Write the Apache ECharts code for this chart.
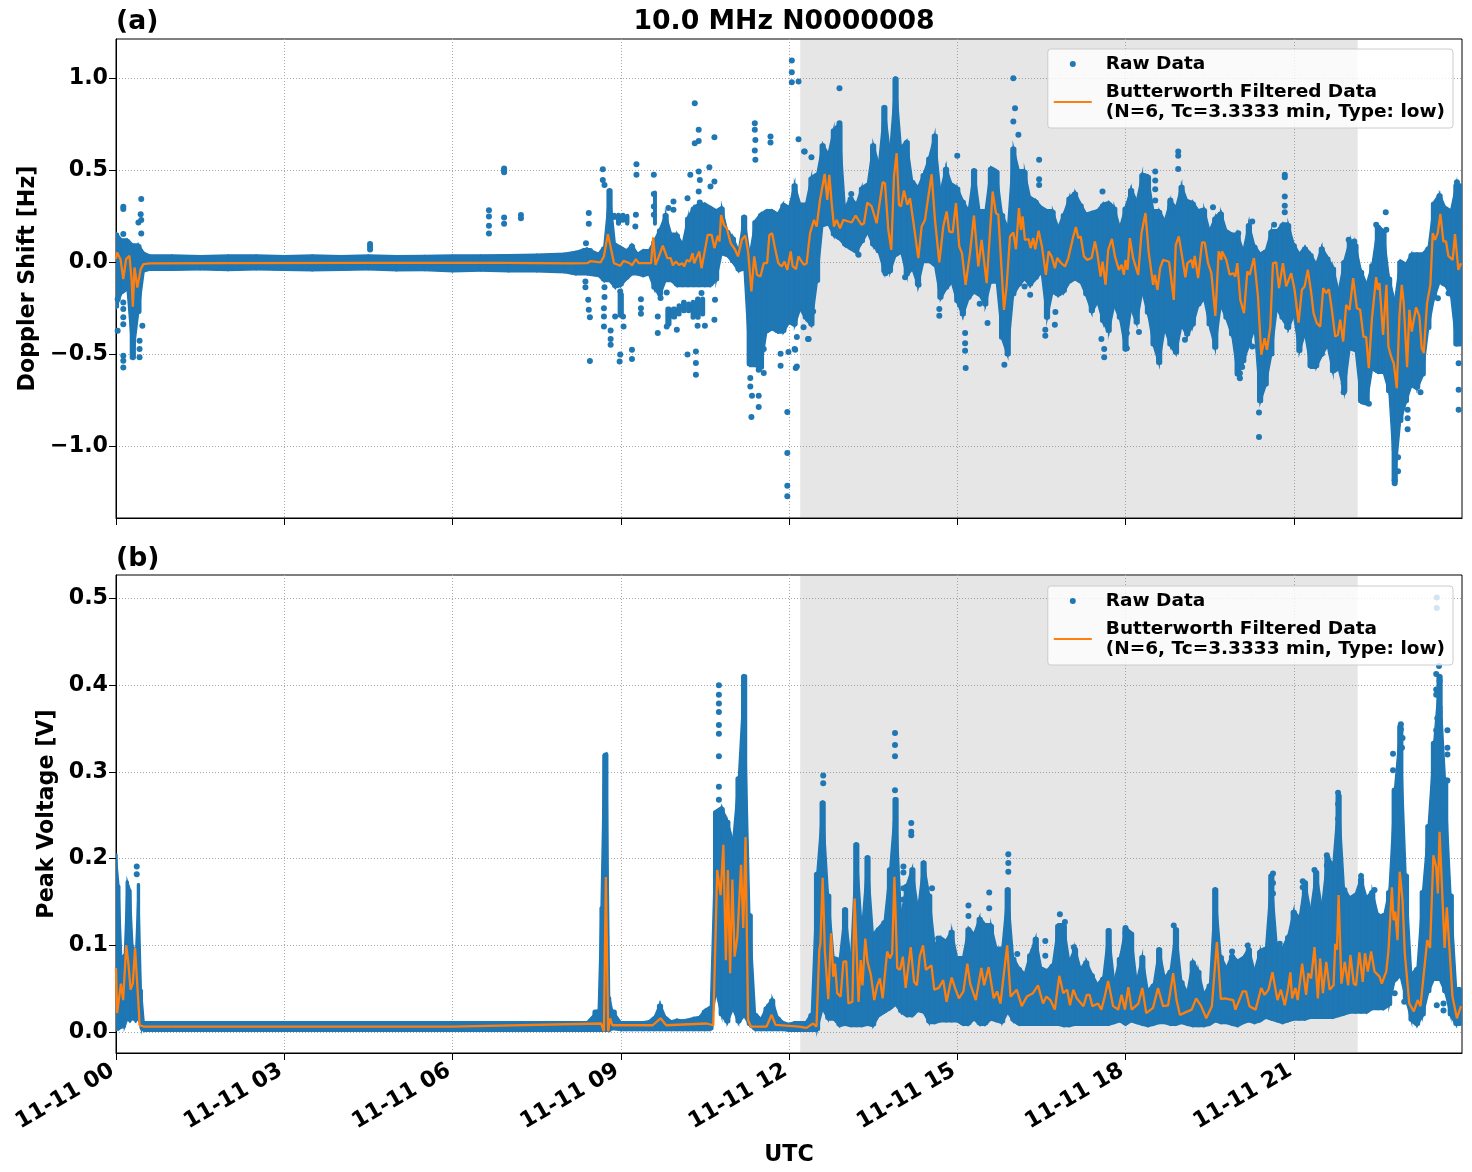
<!DOCTYPE html>
<html>
<head>
<meta charset="utf-8">
<title>10.0 MHz N0000008</title>
<script src="https://cdn.jsdelivr.net/npm/echarts@6/dist/echarts.min.js"></script>
<style>html,body{margin:0;padding:0;background:#fff}#chart{width:1472px;height:1172px}</style>
</head>
<body>
<div id="chart"></div>
<script>
// Axis ticks and labels
const xTicks = [0, 3, 6, 9, 12, 15, 18, 21];
const xTickLabels = ['11-11 00', '11-11 03', '11-11 06', '11-11 09', '11-11 12', '11-11 15', '11-11 18', '11-11 21'];
const dopplerTicks = [-1, -0.5, 0, 0.5, 1];
const voltageTicks = [0, 0.1, 0.2, 0.3, 0.4, 0.5];
const shadedSpan = [12.2, 22.14];

// Half-hour to tenth-of-an-hour sample times (UTC hours) for the raw-data envelopes
const tenthsFrom = (start, end) => {
  const out = [];
  for (let t = Math.round(start * 10); t <= Math.round(end * 10); t++) out.push(t / 10);
  return out;
};
const dopplerHours = [0, .1, .2, .3, .4, .5, .6, 1, 1.5, 2, 2.5, 3, 3.5, 4, 4.5, 5, 5.5, 6, 6.5, 7, 7.5, 8, 8.2, 8.4, 8.6].concat(tenthsFrom(8.7, 23.9));
const voltageHours = [0, .05, .1, .15, .2, .25, .3, .35, .4, .45, .5, 1, 2, 3, 4, 5, 6, 7, 8, 8.4, 8.6, 8.65, 8.7, 8.75, 8.8, 8.85].concat(tenthsFrom(9, 23.9));

// Doppler shift [Hz]: upper and lower edge of the raw-data cloud
const dopplerHigh = [
  .163, .127, .127, .1, .1, .054, .04, .04, .036, .04, .04, .036, .04, .036, .04, .036, .038, .04, .04, .042, .045, .05, .06, .078, .05,
  .087, .403, .105, .087, .069, .096, .051, .069, .069, .123, .186, .268, .159, .159, .105, .25, .304, .322, .322, .304, .286, .304, .177, .141, .069, .259, .051, .231, .268, .286, .286, .268, .322,
  .304, .43, .322, .322, .467, .485, .647, .593, .729, .756, .304, .358, .322, .412, .43, .647, .539, .855, .611, 1.01,
  .629, .665, .448, .412, .485, .575, .70, .394, .52, .43, .412, .34, .286, .512, .286, .286, .52, .503, .268, .195,
  .63, .503, .503, .358, .34, .304, .286, .286, .195, .268, .358, .385, .322, .268, .277, .286, .322, .33, .304, .195,
  .304, .404, .34, .485, .476, .286, .286, .232, .34, .304, .422, .34, .331, .286, .295, .177, .25, .277, .177, .159,
  .159, .069, .214, .096, .051, .069, .177, .177, .214, .214, .105, .051, .087, .051, -.004, .087, .033, -.022, -.148, .014,
  .123, .105, -.04, -.112, -.004, .205, .177, -.076, -.203, .014, -.004, .051, .051, .051, .087, .331, .376, .304, .286, .43
];
const dopplerLow = [
  -.25, -.17, -.15, -.53, -.28, -.05, -.042, -.042, -.04, -.044, -.04, -.042, -.045, -.042, -.04, -.045, -.044, -.05, -.046, -.05, -.05, -.055, -.067, -.067, -.075,
  -.103, -.103, -.139, -.13, -.094, -.067, -.067, -.076, -.067, -.148, -.184, -.103, -.103, -.13, -.13, -.13, -.13, -.13, -.13, -.13, -.103, .042, .033, -.004, -.049, -.04, -.564, -.564, -.582, -.383, -.365, -.383, -.383,
  -.33, -.347, -.257, -.311, -.347, -.112, .195, .204, .141, .123, .087, .069, .05, .105, .159, .087, .05, -.058, -.058, .033,
  .05, -.076, -.04, -.13, 0, 0, -.022, -.203, -.148, -.112, -.22, -.293, -.203, -.166, -.184, -.239, -.112, -.112, -.42, -.51,
  -.184, -.13, -.094, -.13, -.094, -.058, -.311, -.166, -.184, -.166, -.112, -.094, -.112, -.184, -.275, -.22, -.329, -.383, -.239, -.311,
  -.483, -.257, -.338, -.166, -.284, -.456, -.556, -.366, -.456, -.501, -.348, -.402, -.348, -.239, -.203, -.348, -.474, -.239, -.311, -.402,
  -.619, -.547, -.456, -.366, -.764, -.673, -.51, -.257, -.311, -.366, -.293, -.492, -.393, -.574, -.574, -.51, -.456, -.601, -.583, -.71,
  -.474, -.483, -.764, -.773, -.583, -.601, -.601, -.71, -1.198, -.872, -.764, -.673, -.691, -.619, -.366, -.203, -.112, -.13, -.185, -.456
];
// Detached clumps of raw samples: [from hour, to hour, low, high]
const dopplerClumps = [
  [8.85, 8.92, .23, .27], [8.92, 9, .2, .27], [9, 9.08, .215, .27], [9.08, 9.15, .2, .265],
  [8.95, 9.05, -.3, -.16], [9.58, 9.64, .2, .39],
  [9.8, 9.9, -.347, -.239], [9.9, 10, -.31, -.239], [10, 10.08, -.293, -.221], [10.08, 10.17, -.275, -.203],
  [10.17, 10.25, -.275, -.212], [10.25, 10.33, -.311, -.203], [10.33, 10.42, -.311, -.185], [10.42, 10.5, -.293, -.185]
];
// Isolated raw samples: [hour, Hz]
const dopplerPoints = [
  [.13, .302], [.13, .29], [.45, .344], [.44, .262], [.45, .23], [.4, .217], [.45, .157], [.13, .154], [.13, -.217], [.13, -.253], [.13, -.298], [.13, -.335],
  [.13, -.506], [.13, -.533], [.13, -.57], [.03, -.37], [.42, -.425], [.42, -.47], [.42, -.515], [.47, -.344], [.03, -.2],
  [4.53, .1], [4.53, .085], [4.53, .07], [6.92, .51], [6.92, .5], [6.92, .49], [6.65, .284], [6.65, .25], [6.65, .2], [6.65, .157], [6.92, .244], [6.92, .21], [7.22, .257], [7.22, .24],
  [10.32, .864], [10.39, .72], [10.39, .66], [10.32, .647], [10.67, .68], [11.39, .756], [11.39, .72], [11.4, .665], [11.39, .608], [11.4, .557], [11.67, .684], [11.67, .651], [12.17, .669], [12.28, .602],
  [8.68, .506], [8.68, .448], [8.71, .421], [8.43, .268], [8.43, .21], [8.38, .105], [9.28, .533], [9.28, .476], [9.59, .476], [9.59, .371], [9.59, .304], [9.59, .259], [9.94, .331],
  [10.58, .517], [10.39, .494], [10.41, .448], [10.24, .476], [10.67, .439], [10.6, .412], [10.39, .385], [10.41, .325], [9.94, .286], [9.85, .295], [10.19, .349], [9.27, .259], [9.26, .195], [9.2, .087], [10.12, .087], [9.98, .096],
  [8.37, -.103], [8.37, -.134], [8.42, -.203], [8.43, -.257], [8.45, -.297], [8.45, -.535], [8.71, -.134], [8.71, -.188], [8.7, -.248], [8.7, -.293], [8.7, -.347], [8.82, -.369], [8.82, -.416], [8.82, -.447],
  [8.9, -.293], [8.99, -.157], [9.04, -.293], [9.05, -.347], [8.99, -.5], [8.98, -.537], [9.2, -.474], [9.2, -.524], [9.36, -.199], [9.36, -.248], [9.36, -.278], [9.66, -.293], [9.66, -.383], [9.71, -.193], [9.82, -.163],
  [10, -.365], [9.82, -.347], [10.19, -.5], [10.34, -.483], [10.34, -.546], [10.34, -.609], [10.37, -.344], [10.5, -.344], [10.68, -.203], [10.67, -.311], [10.44, -.166],
  [11.31, -.627], [11.31, -.673], [11.34, -.723], [11.33, -.839], [11.46, -.723], [11.46, -.785], [11.55, -.47], [11.55, -.6], [11.46, -.582],
  [11.97, -.812], [11.97, -1.034], [11.97, -1.212], [11.97, -1.269], [12.14, -.564], [11.85, -.495], [11.85, -.56], [11.99, -.486], [12.1, -.47], [12.14, -.405], [12.34, -.416], [12.26, -.351],
  [12.05, 1.096], [12.05, 1.033], [12.05, .978], [12.17, .982], [12.27, .602], [12.4, .571], [12.9, .946], [12.9, .756], [16, 1], [16.03, .837], [16, .765], [16.09, .693], [15, .579], [16.46, .557], [16.46, .452], [16.46, .42], [17.59, .385], [13.11, .371],
  [16.57, -.365], [16.74, -.338], [16.57, -.398], [16.75, -.269], [15.14, -.383], [15.14, -.438], [15.14, -.479], [15.15, -.573], [15.84, -.555], [12.35, -.416], [12.12, -.573], [12.11, -.474], [14.68, -.253], [14.68, -.289], [15.54, -.329], [15.4, -.224],
  [17.62, -.514], [17.62, -.47], [17.57, -.416], [18.02, -.465], [18.02, -.383], [13.72, -.058], [13.24, .042], [14.07, -.08], [14.31, -.121], [16.2, -.13], [16.3, -.175], [12.43, -.266],
  [18.94, .603], [18.94, .579], [18.94, .507], [18.53, .494], [18.53, .445], [18.53, .398], [18.53, .337], [18.8, .337], [18.8, .3], [19.56, .3], [20.84, .476], [20.84, .463], [20.84, .358], [20.84, .308], [20.84, .272], [20.01, .159], [20.26, .223], [20.65, .205], [21.98, .123], [22.08, .114],
  [20.38, -.815], [20.38, -.948], [18.24, -.378], [18.02, -.384], [18.02, -.465], [19.06, -.42], [19.2, -.311], [20.04, -.601], [20.04, -.628], [20.08, -.568], [20.26, -.456], [20.88, -.348], [21.89, -.606], [21.89, -.655], [21.89, -.704],
  [22.23, -.719], [22.23, -.755], [22.34, -.767], [22.24, -.659], [22.64, .273], [22.47, .205], [22.65, .177], [22.8, -1.017], [22.86, -1.057], [22.86, -1.133], [22.8, -1.184], [22.8, -1.198], [23.03, -.8], [23.03, -.845], [23.03, -.905], [23.26, -.704],
  [23.91, .436], [23.91, .398], [23.91, .364], [23.94, -.547], [23.94, -.691], [23.94, -.8], [23.94, -.402], [23.57, -.194], [23.67, -.112], [23.76, -.167]
];
// Butterworth-filtered Doppler shift: [hour, Hz]
const dopplerFiltered = [
  [0, .02], [.02, .054], [.08, .018], [.13, -.09], [.18, .018], [.24, .036], [.28, -.1], [.3, -.24], [.33, -.027], [.38, -.136], [.44, -.036], [.49, -.009], [.6, -.005],
  [2, -.004], [4.5, -.002], [6.9, -.002], [8.1, -.005], [8.4, -.004], [8.46, .007], [8.64, 0], [8.7, .033], [8.77, .154], [8.83, .069], [8.88, -.004], [8.99, -.018], [9.05, .009], [9.16, -.004], [9.2, -.016], [9.27, .018], [9.32, -.004], [9.54, -.004], [9.58, .137], [9.62, -.013],
  [9.68, .033], [9.75, .092], [9.83, .024], [9.89, .024], [9.93, -.016], [9.98, .005], [10.04, -.013], [10.1, -.004], [10.13, -.022], [10.18, .014], [10.23, .005], [10.28, .05], [10.31, -.004], [10.4, .06], [10.44, -.031], [10.48, .033], [10.55, .15], [10.62, .15], [10.67, .078], [10.73, .145], [10.76, .114], [10.79, .257], [10.84, .204], [10.89, .186], [10.96, .105], [11.04, .069], [11.09, .033], [11.16, .123], [11.22, .146], [11.27, .06], [11.33, -.157], [11.38, .033], [11.43, -.067], [11.49, -.076], [11.55, -.004], [11.61, -.004], [11.65, .149], [11.7, .158], [11.75, .078], [11.81, -.004], [11.87, -.022], [11.92, .005], [11.97, -.04], [12.03, .06],
  [12.065, -.02], [12.125, -.036], [12.167, .033], [12.226, .005], [12.268, -.013], [12.315, -.004], [12.375, .159], [12.446, .231], [12.493, .195], [12.553, .34], [12.636, .481], [12.683, .34], [12.719, .476], [12.761, .322], [12.802, .195], [12.85, .231], [12.909, .186], [12.969, .231], [13.117, .217], [13.189, .255], [13.236, .231], [13.295, .204], [13.337, .213], [13.396, .325], [13.474, .304], [13.563, .213], [13.67, .436], [13.711, .43], [13.771, .177], [13.824, .069], [13.872, .467], [13.919, .593], [13.961, .313], [13.997, .304],
  [14.05, .391], [14.11, .313], [14.157, .349], [14.217, .222], [14.306, .024], [14.365, .195], [14.424, .231], [14.543, .479], [14.603, .231], [14.68, 0], [14.751, .195], [14.811, .277], [14.858, .168], [14.918, .163], [14.977, .322], [15.036, .087], [15.084, .051], [15.149, -.121], [15.227, .051], [15.298, .255], [15.375, -.022], [15.435, .123], [15.524, -.112], [15.565, .078], [15.631, .385], [15.69, .268], [15.732, .259], [15.773, .051], [15.833, -.257], [15.88, -.13], [15.94, .141],
  [16, .163], [16.047, .072], [16.1, .295], [16.136, .177], [16.165, .25], [16.207, .123], [16.272, .127], [16.308, .078], [16.355, .132], [16.391, .072], [16.45, .172], [16.51, .087], [16.581, -.067], [16.629, .06], [16.682, .033], [16.742, -.031], [16.783, .024], [16.843, 0], [16.92, -.022], [16.98, .024], [17.069, .141], [17.116, .192], [17.158, .132], [17.2, .141], [17.259, .033], [17.318, .014], [17.396, .024], [17.455, .114], [17.496, .051], [17.556, -.076], [17.591, .005], [17.645, -.121], [17.692, .069], [17.758, .128], [17.811, .033], [17.883, -.04], [17.93, -.013], [17.972, -.067],
  [18, .014], [18.036, -.04], [18.077, .132], [18.136, .024], [18.226, -.067], [18.285, .159], [18.356, .268], [18.415, .051], [18.493, -.121], [18.522, -.067], [18.57, -.148], [18.617, -.031], [18.671, .014], [18.777, .004], [18.861, -.203], [18.896, .096], [18.95, .141], [19.009, .033], [19.068, -.081], [19.104, -.004], [19.175, .014], [19.205, -.031], [19.234, .036], [19.294, -.085], [19.365, .109], [19.412, .109], [19.472, -.004], [19.531, -.058], [19.602, -.29], [19.662, .06], [19.709, .014], [19.721, .06], [19.798, .014], [19.858, -.067], [19.917, -.058], [19.958, -.076], [19.994, -.004],
  [20.047, -.203], [20.113, -.275], [20.172, -.049], [20.214, -.067], [20.291, .024], [20.362, -.185], [20.421, -.501], [20.481, -.411], [20.522, -.474], [20.582, -.348], [20.629, -.004], [20.688, 0], [20.736, -.139], [20.807, -.004], [20.866, -.13], [20.955, -.058], [21.015, -.148], [21.086, -.326], [21.145, -.148], [21.193, -.13], [21.252, -.04], [21.312, -.167], [21.353, -.275], [21.412, -.329], [21.472, -.348], [21.525, -.139], [21.579, -.167], [21.626, -.145], [21.68, -.257], [21.739, -.402], [21.786, -.393], [21.828, -.311], [21.881, -.429], [21.935, -.23], [21.994, -.257],
  [22.059, -.085], [22.125, -.248], [22.184, -.257], [22.243, -.402], [22.291, -.405], [22.338, -.574], [22.392, -.311], [22.421, -.308], [22.469, -.08], [22.499, -.148], [22.528, -.112], [22.593, -.393], [22.653, -.121], [22.688, -.456], [22.736, -.51], [22.783, -.547], [22.837, -.682], [22.884, -.293], [22.926, -.121], [22.961, -.221], [23.021, -.568], [23.062, -.257], [23.104, -.375], [23.181, -.244], [23.24, -.293], [23.282, -.465], [23.318, -.492], [23.377, -.221], [23.436, -.121], [23.478, .159], [23.519, .123], [23.567, .159], [23.614, .264], [23.668, .114], [23.715, .114], [23.757, .036], [23.834, .014], [23.875, .154], [23.935, -.04], [23.982, -.004]
];

// Peak voltage [V]: upper and lower edge of the raw-data cloud
const voltageHigh = [
  .206, .17, .087, .09, .175, .165, .1, .09, .172, .05, .012, .012, .012, .012, .012, .012, .012, .012, .012, .012, .026, .145, .321, .322, .041, .026,
  .012, .012, .012, .012, .012, .013, .018, .033, .018, .013, .015, .014, .015, .017, .018, .026, .03, .256, .26, .245, .222, .295, .413, .137, .022, .016, .03, .039, .018, .012,
  .01, .012, .012, .012, .022, .185, .267, .16, .087, .085, .144, .085, .219, .121, .204, .114, .121, .129, .19, .271,
  .137, .171, .19, .144, .198, .16, .102, .11, .106, .118, .087, .087, .121, .114, .133, .125, .125, .098, .098, .167,
  .087, .075, .068, .091, .11, .075, .072, .079, .125, .125, .083, .098, .074, .083, .068, .056, .064, .12, .06, .087,
  .121, .116, .06, .089, .049, .056, .098, .064, .072, .121, .06, .047, .083, .072, .045, .056, .167, .089, .075, .09,
  .083, .087, .098, .072, .095, .098, .183, .102, .098, .112, .141, .133, .175, .141, .187, .146, .204, .194, .275, .167,
  .156, .16, .179, .156, .164, .137, .133, .164, .282, .355, .183, .068, .075, .164, .24, .336, .413, .294, .16, .052
];
const voltageLow = [
  .002, .003, .005, .005, .014, .012, .015, .012, .015, .003, .001, .001, .001, .001, .001, .001, .001, .001, .001, .001, .001, .001, .001, .001, .001, .003,
  .002, .002, .002, .002, .002, .002, .002, .002, .002, .002, .002, .002, .002, .002, .002, .002, .002, .045, .018, .01, .026, .01, .018, .007, .002, .002, .002, .002, .002, .002,
  .001, .001, .001, .001, .001, .001, .026, .014, .014, .0065, .008, .0065, .0065, .0065, .008, .0065, .018, .022, .026, .031,
  .022, .018, .018, .024, .022, .01, .01, .012, .012, .012, .012, .008, .008, .014, .008, .008, .014, .012, .01, .022,
  .012, .008, .008, .008, .008, .008, .008, .008, .008, .0065, .0065, .008, .008, .008, .008, .008, .008, .008, .01, .012,
  .008, .012, .01, .008, .0065, .008, .01, .01, .008, .008, .01, .008, .0065, .0065, .0065, .008, .012, .01, .01, .008,
  .0065, .01, .012, .01, .012, .016, .014, .012, .01, .012, .014, .014, .014, .016, .016, .016, .016, .016, .018, .02,
  .022, .022, .022, .022, .026, .026, .026, .03, .058, .064, .037, .012, .007, .018, .045, .06, .06, .045, .018, .007
];
// Isolated raw samples: [hour, V]
const voltagePoints = [
  [.37, .191], [.37, .182], [10.75, .4], [10.75, .389], [10.75, .379], [10.75, .369], [10.75, .354], [10.75, .344], [10.75, .318], [10.75, .283], [10.75, .268],
  [21.79, .276], [21.79, .263], [21.79, .246], [20.63, .183], [20.63, .172], [20.63, .16], [21.59, .204], [21.59, .192], [21.16, .174], [21.16, .167], [21.37, .187],
  [22.77, .321], [22.77, .302], [22.91, .355], [22.91, .349], [22.94, .339], [22.93, .328], [23.74, .348], [23.74, .328], [23.74, .32], [23.74, .29],
  [23.59, .422], [23.54, .413], [23.6, .405], [23.54, .395], [23.54, .389], [23.6, .374], [23.6, .369], [23.56, .362], [23.54, .348], [22.8, .045], [22.97, .035], [23.55, .031], [23.67, .025], [23.67, .033],
  [18.86, .123], [19.9, .093], [20.75, .102], [20.18, .1], [22.2, .18], [22.44, .164], [22.6, .134], [21.59, .167], [23.55, .501], [23.55, .489],
  [12.61, .296], [12.61, .287], [13.89, .345], [13.89, .331], [13.89, .318], [13.89, .279], [14.18, .241], [14.18, .231], [14.18, .227], [15.91, .205], [15.91, .195], [15.91, .185],
  [15.57, .161], [15.57, .143], [15.2, .146], [15.2, .134], [16.83, .136], [16.92, .127], [16.57, .105], [16.57, .088], [17.08, .098], [16.07, .09], [14.66, .108], [14.77, .103],
  [14.04, .191], [14.04, .184], [14.04, .166], [14.04, .153], [14.04, .139], [18, .12], [18, .114], [14.55, .166]
];
// Butterworth-filtered peak voltage: [hour, V]
const voltageFiltered = [
  [0, .074], [.02, .022], [.088, .056], [.127, .037], [.183, .1], [.22, .08], [.26, .049], [.3, .056], [.34, .097], [.41, .022], [.42, .008], [.5, .0065], [2, .0065], [4, .0065], [6, .0065], [8.65, .01],
  [8.7, .001], [8.735, .179], [8.775, .001], [8.81, .016], [8.85, .008], [9.57, .008], [9.71, .016], [9.81, .008], [10.53, .01], [10.65, .008], [10.72, .187], [10.78, .158], [10.83, .216], [10.875, .083], [10.91, .187], [10.95, .068], [10.99, .176], [11.03, .087], [11.08, .11], [11.145, .193], [11.185, .12], [11.225, .225], [11.27, .014], [11.32, .0065], [11.6, .0065], [11.69, .02], [11.76, .0085], [12.18, .0065],
  [12.31, .005], [12.43, .01], [12.49, .0065], [12.54, .095], [12.56, .102], [12.6, .178], [12.64, .093], [12.7, .038], [12.75, .114], [12.79, .064], [12.82, .079], [12.86, .045], [12.92, .041], [12.97, .081], [13.02, .082], [13.06, .033], [13.13, .035], [13.17, .154], [13.24, .035], [13.28, .083], [13.31, .054], [13.36, .108], [13.4, .081], [13.46, .066], [13.52, .037], [13.57, .053], [13.62, .062], [13.67, .039], [13.75, .093], [13.8, .085], [13.84, .091], [13.88, .179], [13.93, .074], [13.98, .072],
  [14.03, .087], [14.08, .051], [14.17, .098], [14.23, .058], [14.28, .054], [14.33, .087], [14.39, .1], [14.44, .072], [14.54, .077], [14.59, .049], [14.67, .051], [14.75, .06], [14.81, .035], [14.9, .063], [14.96, .051], [15.03, .039], [15.11, .047], [15.18, .079], [15.23, .056], [15.26, .058], [15.33, .037], [15.43, .074], [15.48, .054], [15.56, .075], [15.65, .039], [15.71, .047], [15.77, .033], [15.89, .1], [15.95, .041],
  [16.06, .049], [16.15, .03], [16.24, .041], [16.35, .045], [16.44, .054], [16.53, .033], [16.59, .041], [16.66, .037], [16.74, .026], [16.82, .065], [16.89, .045], [16.96, .049], [17.01, .031], [17.07, .049], [17.13, .039], [17.25, .03], [17.31, .043], [17.36, .043], [17.41, .03], [17.51, .033], [17.57, .026], [17.63, .041], [17.69, .059], [17.78, .03], [17.87, .026], [17.93, .043], [17.99, .026],
  [18.05, .052], [18.11, .026], [18.23, .033], [18.3, .051], [18.37, .022], [18.49, .028], [18.58, .051], [18.67, .03], [18.76, .031], [18.85, .068], [18.91, .037], [18.97, .02], [19.18, .026], [19.26, .039], [19.35, .03], [19.44, .016], [19.54, .03], [19.63, .104], [19.7, .038], [19.77, .039], [19.92, .037], [19.96, .026],
  [20.09, .047], [20.15, .047], [20.21, .03], [20.32, .026], [20.42, .051], [20.48, .043], [20.55, .049], [20.62, .069], [20.71, .037], [20.77, .049], [20.84, .031], [20.9, .051], [20.94, .069], [20.97, .039], [21.03, .051], [21.07, .037], [21.15, .079], [21.22, .043], [21.26, .068], [21.31, .062], [21.37, .098], [21.43, .039], [21.47, .085], [21.52, .045], [21.58, .081], [21.64, .049], [21.71, .054], [21.74, .102], [21.77, .095], [21.8, .158], [21.85, .056], [21.91, .081], [21.97, .054],
  [22.01, .089], [22.07, .056], [22.11, .054], [22.17, .092], [22.23, .058], [22.27, .091], [22.32, .07], [22.38, .093], [22.44, .07], [22.53, .064], [22.57, .056], [22.65, .07], [22.69, .095], [22.75, .167], [22.78, .129], [22.81, .139], [22.85, .106], [22.89, .185], [22.94, .152], [22.98, .091],
  [23.06, .033], [23.14, .024], [23.21, .037], [23.26, .03], [23.38, .106], [23.43, .097], [23.49, .204], [23.54, .19], [23.57, .16], [23.6, .231], [23.69, .097], [23.73, .144], [23.83, .041], [23.91, .016], [23.98, .03]
];

const FONT = 'DejaVu Sans';
const BLUE = '#1f77b4';
const ORANGE = '#ff7f0e';
const RAW_NAME = 'Raw Data';
const FILTER_NAME = 'Butterworth Filtered Data\n(N=6, Tc=3.3333 min, Type: low)';
const HOUR_MAX = 24;

// Turn the sampled envelope into [x0, x1, low, high] columns, centred on each sample time
function envelopeColumns(hours, low, high) {
  return hours.map((h, i) => {
    const x0 = i === 0 ? h : (hours[i - 1] + h) / 2;
    const x1 = i === hours.length - 1 ? HOUR_MAX : (h + hours[i + 1]) / 2;
    return [x0, x1, low[i], high[i]];
  });
}

// Slanted fill between neighbouring samples: [h0, low0, high0, h1, low1, high1]
function envelopeSlopes(hours, low, high) {
  const out = [];
  for (let i = 0; i + 1 < hours.length; i++) {
    out.push([hours[i], low[i], high[i], hours[i + 1], low[i + 1], high[i + 1]]);
  }
  return out;
}

// Columns are drawn with rounded ends, the radius of one raw-data dot
function renderColumn(params, api) {
  const a = api.coord([api.value(0), api.value(3)]);
  const b = api.coord([api.value(1), api.value(2)]);
  return {
    type: 'rect',
    shape: { x: a[0] - 0.3, y: a[1], width: b[0] - a[0] + 0.6, height: Math.max(b[1] - a[1], 1), r: 2.5 },
    style: { fill: BLUE, stroke: null }
  };
}

function renderSlope(params, api) {
  const t0 = api.coord([api.value(0), api.value(2)]);
  const t1 = api.coord([api.value(3), api.value(5)]);
  const b1 = api.coord([api.value(3), api.value(4)]);
  const b0 = api.coord([api.value(0), api.value(1)]);
  return {
    type: 'polygon',
    shape: { points: [t0, t1, b1, b0] },
    style: { fill: BLUE, stroke: BLUE, lineWidth: 1.5 }
  };
}

function renderShade(params, api) {
  const a = api.coord([api.value(0), api.value(3)]);
  const b = api.coord([api.value(1), api.value(2)]);
  return {
    type: 'rect',
    shape: { x: a[0], y: a[1], width: b[0] - a[0], height: b[1] - a[1] },
    style: { fill: 'rgba(128,128,128,0.2)', stroke: null }
  };
}

function panelSeries(axisIndex, yRange, columns, slopes, points, filtered) {
  const common = { xAxisIndex: axisIndex, yAxisIndex: axisIndex, animation: false, silent: true };
  return [
    Object.assign({}, common, {
      type: 'custom', name: 'shaded interval', z: 1, clip: true, renderItem: renderShade,
      encode: { x: [0, 1], y: [2, 3] },
      data: [[shadedSpan[0], shadedSpan[1], yRange[0], yRange[1]]]
    }),
    Object.assign({}, common, {
      type: 'custom', name: RAW_NAME, z: 2, clip: true, renderItem: renderColumn,
      encode: { x: [0, 1], y: [2, 3] }, itemStyle: { color: BLUE }, data: columns
    }),
    Object.assign({}, common, {
      type: 'custom', name: RAW_NAME, z: 2, clip: true, renderItem: renderSlope,
      encode: { x: [0, 3], y: [1, 2, 4, 5] }, itemStyle: { color: BLUE }, data: slopes
    }),
    Object.assign({}, common, {
      type: 'scatter', name: RAW_NAME, z: 3, clip: true, symbol: 'circle', symbolSize: 6,
      itemStyle: { color: BLUE, opacity: 1 }, data: points
    }),
    Object.assign({}, common, {
      type: 'line', name: FILTER_NAME, z: 4, clip: true, symbol: 'none', smooth: false,
      lineStyle: { color: ORANGE, width: 2.3 }, itemStyle: { color: ORANGE }, data: filtered
    })
  ];
}

function panelLegend(top) {
  return {
    orient: 'vertical', right: 19, top: top, selectedMode: false, z: 10,
    data: [
      { name: RAW_NAME, icon: 'circle', itemStyle: { color: BLUE } },
      { name: FILTER_NAME, icon: 'path://M0 0H38V2.1H0Z', itemStyle: { color: ORANGE } }
    ],
    itemWidth: 38, itemHeight: 6, itemGap: 8,
    padding: [5, 8, 6, 6],
    backgroundColor: 'rgba(255,255,255,0.8)', borderColor: '#cccccc', borderWidth: 1, borderRadius: 3,
    textStyle: { fontFamily: FONT, fontWeight: 'bold', fontSize: 18.5, color: '#000', lineHeight: 20, padding: [0, 0, 0, 9] }
  };
}

const minusSign = v => String(v.toFixed(1)).replace('-', '\u2212');
const gridLine = { show: true, lineStyle: { color: '#a8a8a8', type: [1, 2], width: 1 } };
const spine = { show: true, onZero: false, lineStyle: { color: '#000', width: 1 } };
const tickLabelStyle = { fontFamily: FONT, fontWeight: 'bold', fontSize: 22.2, color: '#000' };

function xAxisFor(gridIndex, withLabels) {
  return {
    type: 'value', gridIndex, min: 0, max: HOUR_MAX,
    axisLine: spine,
    axisTick: { show: true, length: 7, customValues: xTicks, lineStyle: { color: '#000', width: 1 } },
    splitLine: gridLine,
    axisLabel: withLabels ? Object.assign({}, tickLabelStyle, {
      show: true, rotate: 30, margin: 14, padding: [0, 4, 0, 0], customValues: xTicks,
      formatter: v => xTickLabels[xTicks.indexOf(v)]
    }) : { show: false, customValues: xTicks },
    name: withLabels ? 'UTC' : '',
    nameLocation: 'middle', nameGap: 91,
    nameTextStyle: { fontFamily: FONT, fontWeight: 'bold', fontSize: 22.2, color: '#000' }
  };
}

function yAxisFor(gridIndex, range, ticks, name, gap) {
  return {
    type: 'value', gridIndex, min: range[0], max: range[1],
    axisLine: spine,
    axisTick: { show: true, length: 7, customValues: ticks, lineStyle: { color: '#000', width: 1 } },
    splitLine: gridLine,
    axisLabel: Object.assign({}, tickLabelStyle, { margin: 8, padding: [2, 0, 0, 0], customValues: ticks, formatter: minusSign }),
    name, nameLocation: 'middle', nameGap: gap, nameRotate: 90,
    nameTextStyle: { fontFamily: FONT, fontWeight: 'bold', fontSize: 22.2, color: '#000' }
  };
}

const dopplerRange = [-1.387, 1.213];
const voltageRange = [-0.024, 0.527];
const frame = { show: true, borderColor: '#000', borderWidth: 1, backgroundColor: 'transparent', left: 116, right: 10 };
const titleStyle = { fontFamily: FONT, fontWeight: 'bold', fontSize: 26.7, color: '#000' };

const chart = echarts.init(document.getElementById('chart'), null, { renderer: 'canvas', width: 1472, height: 1172 });
chart.setOption({
  animation: false,
  backgroundColor: '#fff',
  title: [
    { text: '(a)', left: 116, top: 9, padding: 0, textStyle: titleStyle },
    { text: '10.0 MHz N0000008', left: 784, top: 9, padding: 0, textAlign: 'center', textStyle: titleStyle },
    { text: '(b)', left: 116, top: 546, padding: 0, textStyle: titleStyle }
  ],
  grid: [
    Object.assign({}, frame, { top: 39, height: 479 }),
    Object.assign({}, frame, { top: 575, height: 478 })
  ],
  xAxis: [xAxisFor(0, false), xAxisFor(1, true)],
  yAxis: [
    yAxisFor(0, dopplerRange, dopplerTicks, 'Doppler Shift [Hz]', 68),
    yAxisFor(1, voltageRange, voltageTicks, 'Peak Voltage [V]', 46)
  ],
  legend: [panelLegend(49), panelLegend(586)],
  series: [].concat(
    panelSeries(0, dopplerRange, envelopeColumns(dopplerHours, dopplerLow, dopplerHigh).concat(dopplerClumps), envelopeSlopes(dopplerHours, dopplerLow, dopplerHigh), dopplerPoints, dopplerFiltered),
    panelSeries(1, voltageRange, envelopeColumns(voltageHours, voltageLow, voltageHigh), envelopeSlopes(voltageHours, voltageLow, voltageHigh), voltagePoints, voltageFiltered)
  )
});
</script>
</body>
</html>
